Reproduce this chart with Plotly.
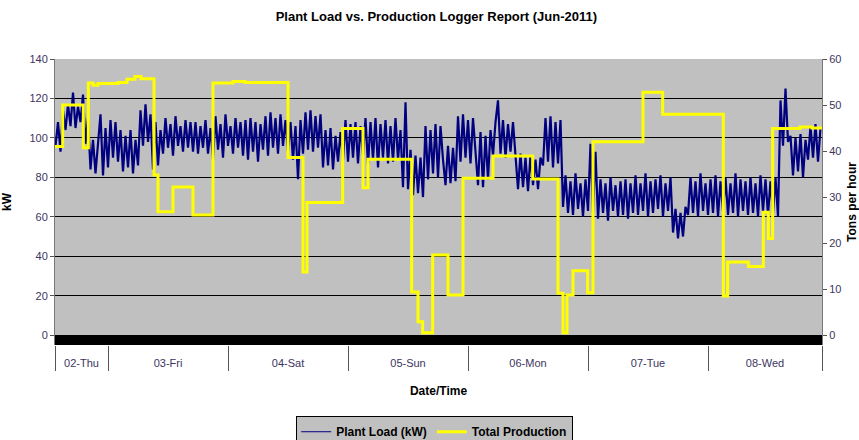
import pandas as pd
import plotly.graph_objects as go

# ---------------- data ----------------
x_start = "2011-06-02 13:24"
x_end = "2011-06-08 22:48"

# Plant load (kW), half-hourly readings starting 2011-06-02 13:30
load_start = "2011-06-02 13:30"
load_step = "30min"
load_kw = [
    96, 108, 93,
    114, 104, 117, 106, 123, 105, 116, 108, 122,
    97, 110,
    84, 99, 82, 97,
    112, 81, 105, 85, 109,
    90, 108, 88, 104,
    83, 101, 85, 104, 82, 99, 86,
    114, 96, 117, 98, 112,
    84, 108, 86, 104,
    92, 110, 95, 107, 91, 111, 96, 106, 93, 109, 95, 108,
    93, 108, 92, 106, 95, 109, 92, 105,
    89, 111, 94, 107, 90, 112, 96, 106, 92, 110, 95, 108, 91, 109,
    89, 110, 93, 108, 88, 107, 94,
    111, 91, 113, 95, 110, 92, 112, 96, 109, 93,
    108, 89, 106, 79, 109, 92,
    113, 94, 114, 93, 111, 95, 112,
    85, 104, 86, 105, 84, 101, 88, 103,
    89, 109, 88, 107, 90, 108, 87, 106, 91,
    110, 86, 108, 89, 110, 85, 107, 90, 109, 87, 106, 88, 110, 89, 104,
    75, 118, 74, 94,
    71, 91, 72, 90, 70,
    106, 79, 104, 82, 107, 80,
    106, 89,
    76, 96, 77, 95, 78,
    111, 88, 112, 90, 109, 87, 110, 91,
    76, 103, 75, 101, 79, 104,
    91, 108, 119, 92, 109, 90, 107, 93, 108, 91,
    74, 92, 75, 90, 73, 91, 76, 89, 74, 90,
    86, 110, 88, 111, 85, 108, 87, 109,
    65, 81, 62, 78, 61, 82, 64, 77, 60, 79, 63,
    97, 62, 93,
    59, 79, 62, 77, 58, 80, 63, 76, 60, 78, 61, 79, 59, 77,
    62, 81, 61, 77, 63, 82, 60, 78, 62, 79, 64, 81, 60, 77, 63, 80,
    52, 64, 49, 62, 50, 65,
    61, 80, 62, 78, 60, 82, 63, 77, 61, 79, 62, 81, 60, 78, 63, 80, 61, 77,
    62, 82, 60, 79, 63, 78, 61, 80, 62, 77, 60, 81, 63, 79, 61, 78, 62, 80, 60,
    119, 96, 125, 98,
    101, 81, 100, 83, 102, 80, 99,
    89, 106, 90, 107, 88, 105,
]

# Total production (tons per hour), step changes
prod_times = [
    "2011-06-02 13:24", "2011-06-02 14:56", "2011-06-02 19:04", "2011-06-02 20:04",
    "2011-06-02 21:00", "2011-06-02 22:00", "2011-06-03 02:00", "2011-06-03 03:48",
    "2011-06-03 05:24", "2011-06-03 06:36", "2011-06-03 09:12", "2011-06-03 10:00",
    "2011-06-03 13:00", "2011-06-03 17:00", "2011-06-03 21:00", "2011-06-04 01:00",
    "2011-06-04 03:24", "2011-06-04 12:00", "2011-06-04 15:00", "2011-06-04 15:48",
    "2011-06-04 22:56", "2011-06-05 03:00", "2011-06-05 04:00", "2011-06-05 12:44",
    "2011-06-05 14:00", "2011-06-05 14:56", "2011-06-05 16:56", "2011-06-05 20:00",
    "2011-06-05 23:00", "2011-06-06 05:00", "2011-06-06 12:56", "2011-06-06 18:00",
    "2011-06-06 19:00", "2011-06-06 19:48", "2011-06-06 21:00", "2011-06-06 23:56",
    "2011-06-07 01:00", "2011-06-07 11:00", "2011-06-07 14:56", "2011-06-08 03:04",
    "2011-06-08 03:56", "2011-06-08 08:04", "2011-06-08 11:04", "2011-06-08 12:04",
    "2011-06-08 12:56", "2011-06-08 18:24", "2011-06-08 20:48", "2011-06-08 22:48",
]
prod_tph = [
    41.0, 50.0, 40.7, 54.8,
    54.3, 54.7, 54.9, 55.6,
    56.2, 55.7, 34.8, 26.8,
    32.2, 26.1, 54.8, 55.1,
    54.9, 38.6, 13.7, 28.8,
    44.9, 32.0, 38.2, 9.4,
    2.9, 0.5, 17.4, 8.7,
    34.1, 38.9, 33.9, 9.1,
    0.5, 8.7, 14.0, 9.2,
    42.0, 52.8, 48.0, 8.5,
    15.9, 14.9, 26.7, 21.0,
    44.9, 45.2, 45.0, 44.8,
]

day_starts = ["2011-06-02", "2011-06-03", "2011-06-04", "2011-06-05",
              "2011-06-06", "2011-06-07", "2011-06-08"]
day_labels = ["02-Thu", "03-Fri", "04-Sat", "05-Sun", "06-Mon", "07-Tue", "08-Wed"]

kw_ticks = [0, 20, 40, 60, 80, 100, 120, 140]
tph_ticks = [0, 10, 20, 30, 40, 50, 60]

# ---------------- derived ----------------
load_times = pd.date_range(start=load_start, periods=len(load_kw), freq=load_step)
xs, xe = pd.Timestamp(x_start), pd.Timestamp(x_end)
day_ts = [pd.Timestamp(d) for d in day_starts]
bounds = [xs] + [d for d in day_ts if xs < d < xe] + [xe]
mids = []
for d in day_ts:
    a = max(d, xs)
    b = min(d + pd.Timedelta(days=1), xe)
    mids.append(a + (b - a) / 2)

FONT = "Liberation Sans, Arial, sans-serif"
TICKCOL = "#3d3560"
NAVY = "#000080"
YELLOW = "#ffff00"

fig = go.Figure()
# legend proxy (thin line, as in the reference legend)
fig.add_trace(go.Scatter(
    x=[None], y=[None], name="Plant Load (kW)", mode="lines", legendgroup="load",
    line=dict(color=NAVY, width=1), xaxis="x", yaxis="y", hoverinfo="skip",
))
fig.add_trace(go.Scatter(
    x=load_times, y=load_kw, name="Plant Load (kW)", mode="lines", legendgroup="load",
    showlegend=False, line=dict(color=NAVY, width=2.2), xaxis="x", yaxis="y",
))
fig.add_trace(go.Scatter(
    x=pd.to_datetime(prod_times), y=prod_tph, name="Total Production", mode="lines",
    line=dict(color=YELLOW, width=3, shape="hv"), xaxis="x", yaxis="y2",
))
# invisible trace to carry the day-label axis
fig.add_trace(go.Scatter(
    x=[xs, xe], y=[None, None], xaxis="x2", yaxis="y", showlegend=False,
    hoverinfo="skip", mode="lines",
))

fig.update_layout(
    width=859, height=440,
    margin=dict(l=55, r=37, t=59, b=95),
    paper_bgcolor="white",
    plot_bgcolor="#c0c0c0",
    font=dict(family=FONT, size=11, color=TICKCOL),
    title=dict(
        text="Plant Load vs. Production Logger Report (Jun-2011)",
        x=0.508, xanchor="center", yref="container", y=0.962, yanchor="middle",
        font=dict(family=FONT, size=13, color="black", weight="bold"),
    ),
    xaxis=dict(
        type="date", range=[xs, xe], tickvals=bounds, automargin=False,
        showticklabels=False, ticks="outside", ticklen=25, tickwidth=1,
        tickcolor="#555555", showgrid=False, zeroline=False, showline=False,
    ),
    xaxis2=dict(
        type="date", range=[xs, xe], overlaying="x", anchor="y", side="bottom",
        automargin=False,
        tickvals=mids, ticktext=day_labels, ticks="outside", ticklen=8,
        tickcolor="rgba(0,0,0,0)", showgrid=False, zeroline=False, showline=False,
        tickfont=dict(family=FONT, size=11, color=TICKCOL),
        title=dict(text="Date/Time", standoff=18,
                   font=dict(family=FONT, size=12, color="black", weight="bold")),
    ),
    yaxis=dict(
        range=[-5, 140], tickvals=kw_ticks, showgrid=True, gridcolor="black",
        gridwidth=1, zeroline=False, showline=True, linecolor="#777777",
        automargin=False,
        ticks="outside", ticklen=4, tickcolor="#555555",
        tickfont=dict(family=FONT, size=11, color=TICKCOL),
        title=dict(text="kW", standoff=15,
                   font=dict(family=FONT, size=12, color="black", weight="bold")),
    ),
    yaxis2=dict(
        range=[-60 * 5 / 140, 60], tickvals=tph_ticks, overlaying="y", side="right",
        automargin=False,
        showgrid=False, zeroline=False, showline=True, linecolor="#777777",
        ticks="outside", ticklen=4, tickcolor="#555555",
        tickfont=dict(family=FONT, size=11, color=TICKCOL),
        title=dict(text="Tons per hour", standoff=16,
                   font=dict(family=FONT, size=12, color="black", weight="bold")),
    ),
    legend=dict(
        orientation="h", x=0.495, xanchor="center",
        yref="container", y=0.054, yanchor="top",
        bgcolor="#c0c0c0", bordercolor="black", borderwidth=1,
        font=dict(family=FONT, size=12, color="black", weight="bold"),
        itemwidth=30, tracegroupgap=0,
    ),
    shapes=[dict(
        type="rect", xref="paper", x0=0, x1=1, yref="y", y0=-5, y1=0,
        fillcolor="black", line=dict(width=0), layer="below",
    )],
    showlegend=True,
)

fig.write_html("out.html", config={"displayModeBar": False},
               post_script="document.body.style.margin='0';")
